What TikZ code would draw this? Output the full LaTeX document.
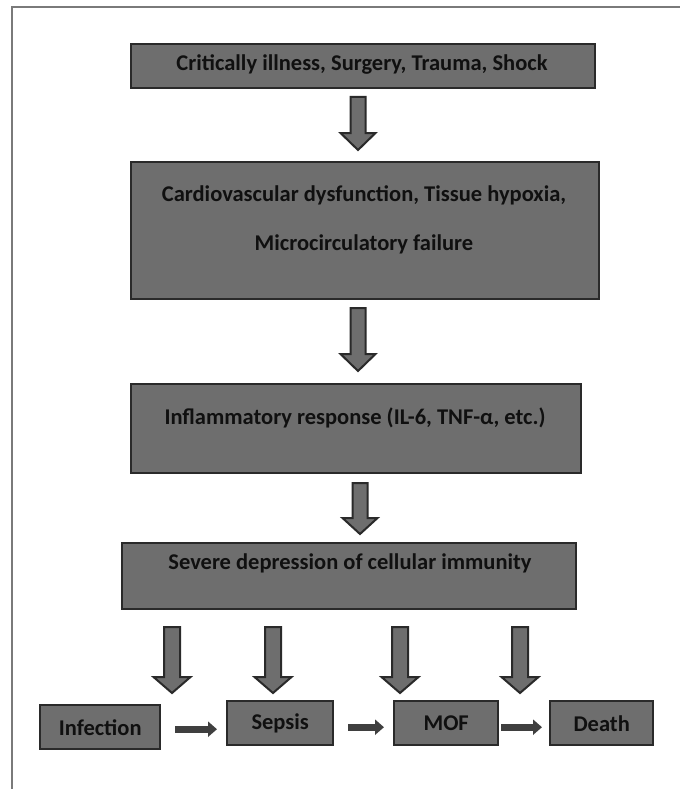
\documentclass[tikz,border=0pt]{standalone}
\usepackage{fontspec}
\setmainfont{Carlito}
\usetikzlibrary{arrows.meta,calc}
\definecolor{boxfill}{HTML}{6E6E6E}
\definecolor{boxline}{HTML}{2A2A2A}
\definecolor{txtcol}{HTML}{101010}
\definecolor{framecol}{HTML}{7A7A7A}
\newcommand\blockarr[6]{% x, ytop, ytip, shaft half, head half, head length
  \draw[blockarrow] ({#1-#4},#2) -- ({#1+#4},#2) -- ({#1+#4},{#3-#6}) -- ({#1+#5},{#3-#6})
    -- (#1,#3) -- ({#1-#5},{#3-#6}) -- ({#1-#4},{#3-#6}) -- cycle;}
\tikzset{
  flowbox/.style={draw=boxline, line width=2.4pt, fill=boxfill, inner sep=0pt, anchor=north west},
  flowtext/.style={text=txtcol, font=\bfseries\fontsize{22.5}{26}\selectfont, inner sep=0pt},
  smalltext/.style={text=txtcol, font=\bfseries\fontsize{22.5}{26}\selectfont, inner sep=0pt},
  blockarrow/.style={draw=boxline, line width=2pt, fill=boxfill, line join=miter},
  harrow/.style={draw=boxline!90, line width=7pt, -{Triangle[length=9pt,width=15pt]}},
  frame/.style={draw=framecol, line width=2pt}
}
\begin{document}
\begin{tikzpicture}[x=1pt,y=-1pt]
\useasboundingbox (0,0) rectangle (680,789);
\fill[white] (0,0) rectangle (680,789);
\draw[frame] (12,789) -- (12,7) -- (680,7);

% main boxes
\node[flowbox, minimum width=464pt, minimum height=44pt] (b1) at (130,43) {};
\node[flowtext] (t1) at (362,64) {Critically illness, Surgery, Trauma, Shock};

\node[flowbox, minimum width=468pt, minimum height=137pt] (b2) at (130,161) {};
\node[flowtext] (t2a) at (364,195) {Cardiovascular dysfunction, Tissue hypoxia,};
\node[flowtext] (t2b) at (364,244) {Microcirculatory failure};

\node[flowbox, minimum width=450pt, minimum height=89pt] (b3) at (130,383) {};
\node[flowtext] (t3) at (355,418) {Inflammatory response (IL-6, TNF-α, etc.)};

\node[flowbox, minimum width=454pt, minimum height=66pt] (b4) at (121,542) {};
\node[flowtext] (t4) at (350,563) {Severe depression of cellular immunity};

% block arrows between main boxes
\blockarr{358}{97}{150}{7.5}{17.5}{17}
\blockarr{358}{308}{371}{7.5}{17.5}{17}
\blockarr{360}{483}{534}{7.5}{17.5}{16}

% bottom boxes
\node[flowbox, minimum width=120pt, minimum height=44pt] (inf) at (39,704) {};
\node[smalltext] at (inf.center) {Infection};
\node[flowbox, minimum width=106pt, minimum height=44pt] (sep) at (226,700) {};
\node[smalltext] at (sep.center) {Sepsis};
\node[flowbox, minimum width=104pt, minimum height=44pt] (mof) at (393,700) {};
\node[smalltext] at (mof.center) {MOF};
\node[flowbox, minimum width=103pt, minimum height=44pt] (death) at (549,700) {};
\node[smalltext] at (death.center) {Death};

% bottom block arrows
\blockarr{172}{627}{693}{8}{18.5}{16}
\blockarr{273}{627}{693}{8}{18.5}{16}
\blockarr{400}{627}{693}{8}{18.5}{16}
\blockarr{520}{627}{693}{8}{18.5}{16}

% horizontal arrows
\draw[harrow, shorten <=14pt, shorten >=9pt] ($(inf.east)+(0,2)$) -- ($(inf.east -| sep.west)+(0,2)$);
\draw[harrow, shorten <=14pt, shorten >=9pt] ($(sep.east)+(0,4)$) -- ($(sep.east -| mof.west)+(0,4)$);
\draw[harrow, shorten <=2pt, shorten >=7pt] ($(mof.east)+(0,4)$) -- ($(mof.east -| death.west)+(0,4)$);
\end{tikzpicture}
\end{document}
